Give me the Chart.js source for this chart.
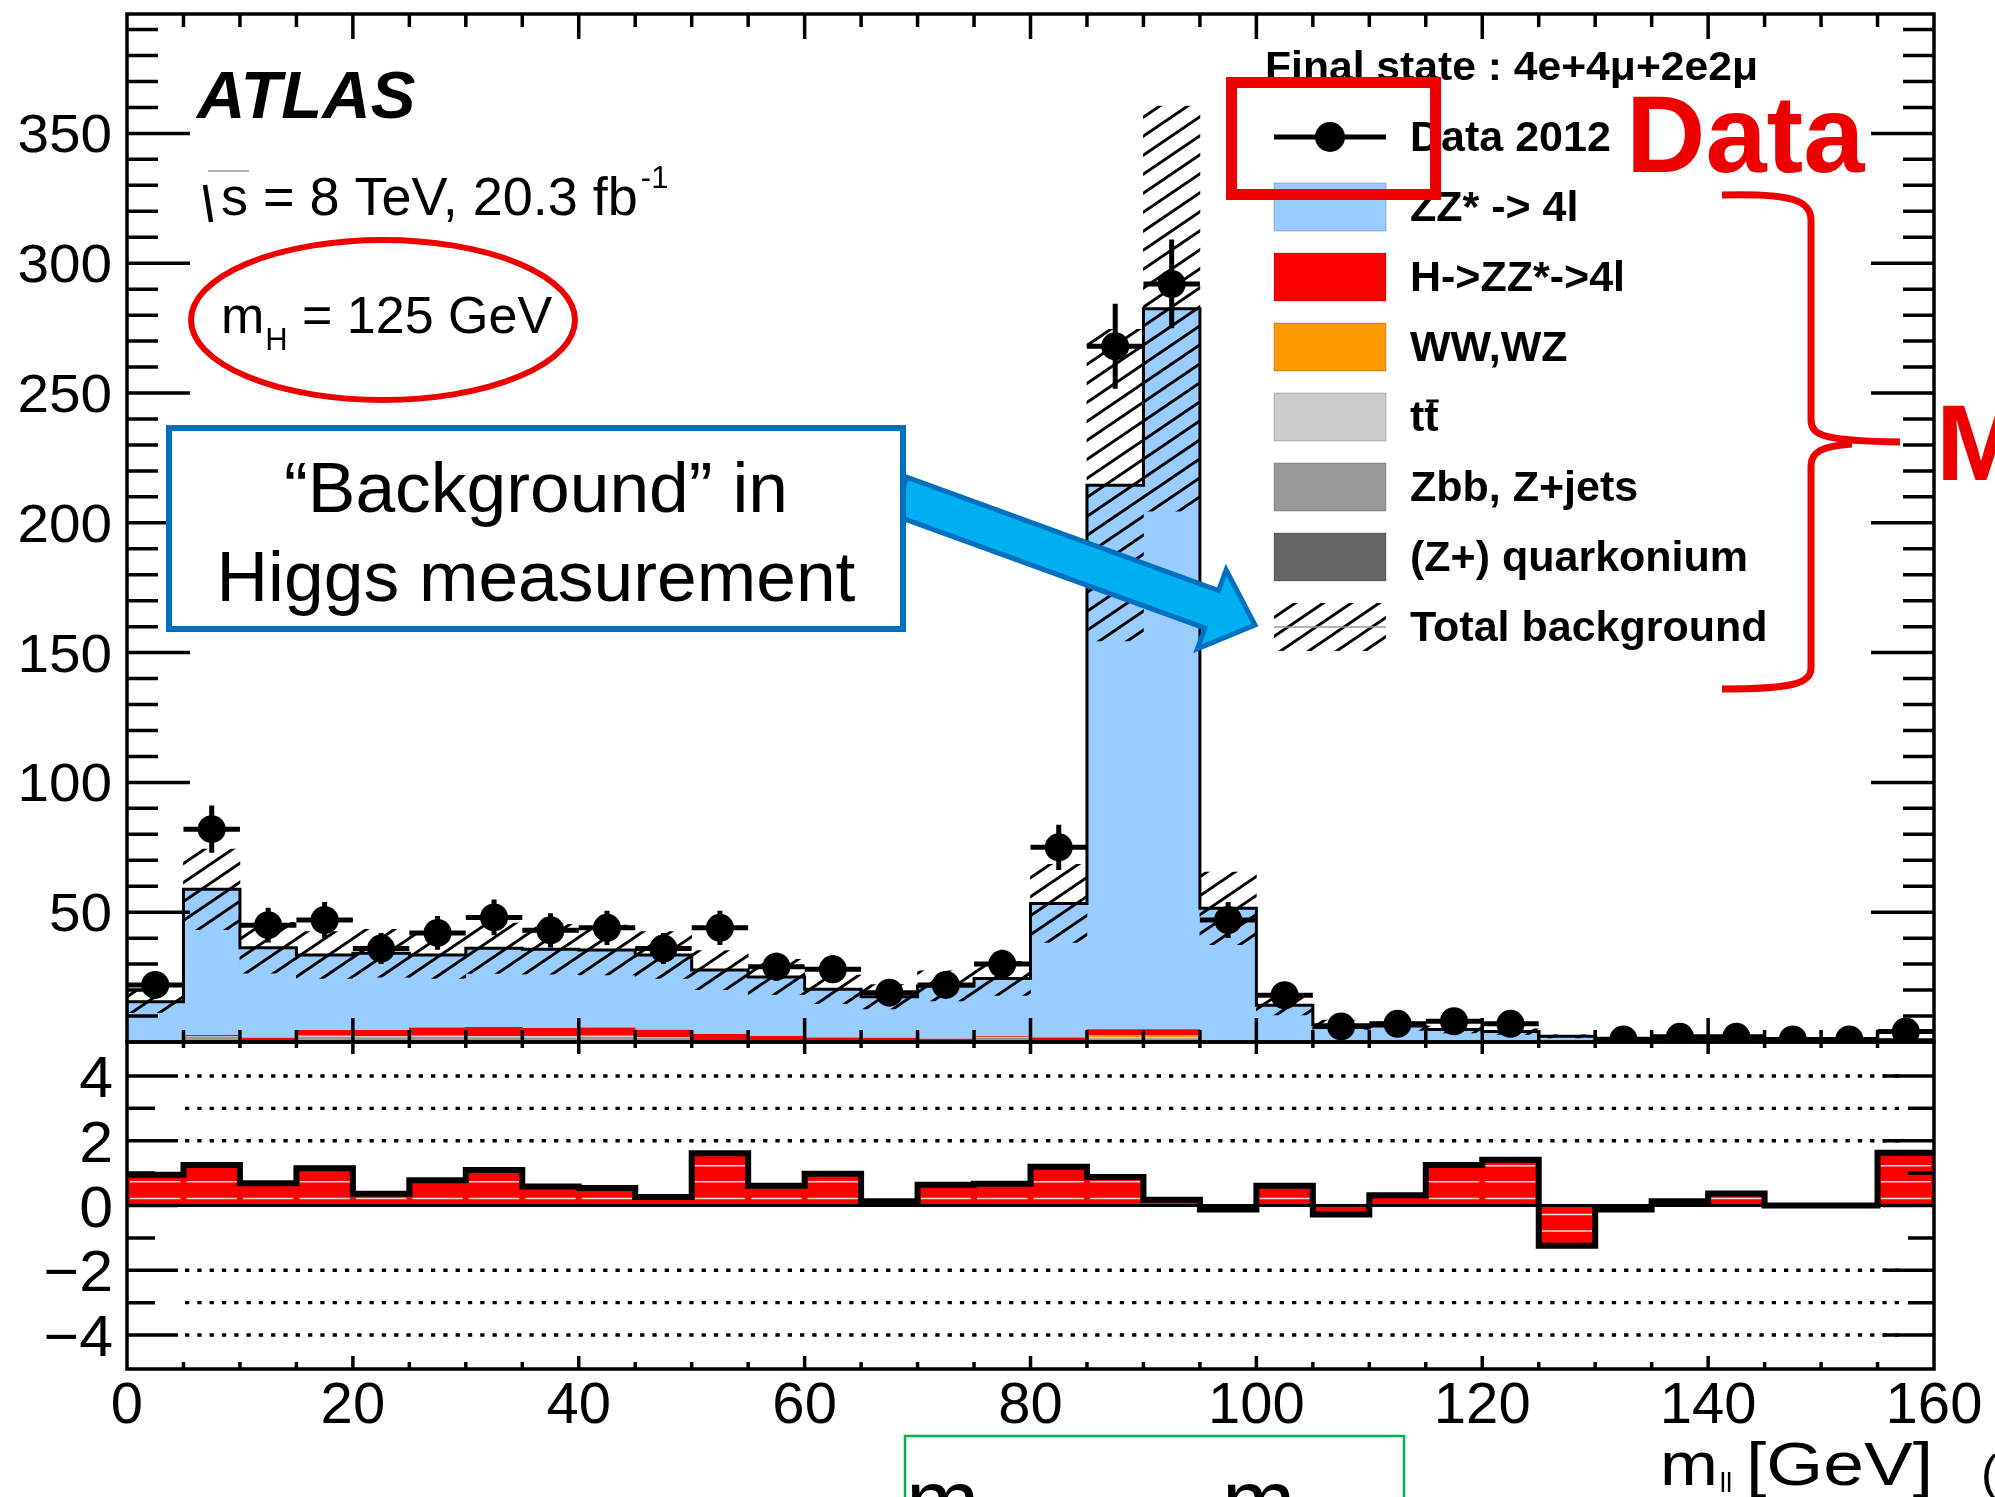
<!DOCTYPE html>
<html>
<head>
<meta charset="utf-8">
<title>ATLAS m_ll distribution, 4l final state</title>
<script src="https://cdn.jsdelivr.net/npm/chart.js@4.4.1/dist/chart.umd.min.js"></script>
<style>
  html, body { margin: 0; padding: 0; background: #ffffff; }
  #stage { position: relative; width: 1995px; height: 1497px; overflow: hidden; background: #ffffff; }
  #stage canvas { position: absolute; left: 0; top: 0; }
</style>
</head>
<body>
<div id="stage">
  <canvas id="mainPanel" width="1995" height="1497"></canvas>
  <canvas id="ratioPanel" width="1995" height="1497"></canvas>
</div>
<script>
const FONT = '"Liberation Sans", Arial, Helvetica, sans-serif';

// ---------- binning (GeV) ----------
const binLowEdges = [0, 5, 10, 15, 20, 25, 30, 35, 40, 45, 50, 55, 60, 65, 70, 75,
                     80, 85, 90, 95, 100, 105, 110, 115, 120, 125, 130, 135, 140, 145, 150, 155];
const binWidth = 5;
const massRange = [0, 160];
const countRange = [0, 396];
const ratioRange = [-5.05, 5.05];

// ---------- expected events per bin, stacked from the bottom up ----------
const quarkonium = [0, 0.9, 0, 0.3, 0.3, 0.3, 0.3, 0.3, 0.3, 0.2, 0, 0, 0, 0, 0, 0,
                    0, 0, 0, 0, 0, 0, 0, 0, 0, 0, 0, 0, 0, 0, 0, 0];
const zbbZjets   = [0, 1.2, 0.2, 1.6, 1.5, 1.6, 1.5, 1.4, 1.6, 1.3, 0.3, 0.2, 0.2, 0.2, 0.3, 1.5,
                    0.3, 1.4, 1.4, 0, 0, 0, 0, 0, 0, 0, 0, 0, 0, 0, 0, 0];
const ttbar      = [0, 0.2, 0.1, 0.5, 0.5, 0.5, 0.5, 0.5, 0.5, 0.4, 0.2, 0.1, 0, 0, 0.1, 0.2,
                    0, 0.3, 0.3, 0, 0, 0, 0, 0, 0, 0, 0, 0, 0, 0, 0, 0];
const wwWz       = [0, 0, 0, 0, 0, 0, 0, 0, 0, 0, 0.3, 0.3, 0.2, 0.2, 0.3, 0.2,
                    0.2, 1.0, 1.0, 0, 0, 0, 0, 0, 0, 0, 0, 0, 0, 0, 0, 0];
const higgs      = [0, 0.4, 1.3, 2.2, 2.3, 3.2, 3.5, 3.2, 3.2, 2.8, 2.3, 1.7, 1.3, 1.2, 0.6, 0.3,
                    1.2, 2.2, 2.2, 0, 0, 0, 0, 0, 0, 0, 0, 0, 0, 0, 0, 0];
const zzStar     = [15.5, 56.1, 34.7, 28.9, 29.6, 27.9, 30.3, 30.3, 29.8, 28.8, 24.6, 22.7, 18.6, 15.8, 20.3, 22.3,
                    51.7, 209.6, 277.6, 51.5, 14.2, 6.6, 6.2, 4.8, 4.0, 2.2, 1.4, 1.3, 1.2, 1.0, 1.0, 0.9];
// half-width of the total background uncertainty band
const bkgUncertainty = [4.2, 15.5, 9.8, 9.0, 9.2, 9.0, 9.7, 9.6, 9.6, 9.0, 7.5, 6.8, 5.5, 4.7, 5.8, 6.6,
                        15.0, 60, 78, 14.0, 3.8, 1.8, 1.7, 1.3, 1.1, 0.6, 0.4, 0.4, 0.3, 0.3, 0.3, 0.2];

// ---------- observed events (2012) ----------
const data2012    = [22, 82, 45, 47, 36, 42, 48, 43, 44, 36, 44, 29, 28, 19, 22, 30,
                     75, 268, 292, 47, 18, 6, 7, 8, 7, null, 1, 2, 2, 1, 1, 4];
const data2012Err = [4.7, 9.1, 6.7, 6.9, 6.0, 6.5, 6.9, 6.6, 6.6, 6.0, 6.6, 5.4, 5.3, 4.4, 4.7, 5.5,
                     8.7, 16.4, 17.1, 6.9, 4.2, 2.4, 2.6, 2.8, 2.6, 0, 1.0, 1.4, 1.4, 1.0, 1.0, 2.0];

// ---------- lower panel: per-bin deviation ----------
const significance = [0.95, 1.25, 0.69, 1.15, 0.36, 0.78, 1.10, 0.59, 0.54, 0.26, 1.61, 0.61, 0.98, 0.13, 0.64, 0.67,
                      1.20, 0.88, 0.18, -0.12, 0.61, -0.28, 0.32, 1.25, 1.41, -1.24, -0.12, 0.13, 0.37, 0.0, 0.0, 1.63];
// thin light stripes running through the filled deviation bars
const stripeLevels = [1.23, 0.73, 0.22, -0.28, -0.79];

// ---------- axis ticks ----------
const countTicks = [50, 100, 150, 200, 250, 300, 350];
const ratioTicks = [4, 2, 0, -2, -4];
const massTicks = [0, 20, 40, 60, 80, 100, 120, 140, 160];
const ratioRefLines = [4, 3, 2, -2, -3, -4];

// ---------- colours ----------
const COL = {
  zz: '#99ccff', higgs: '#ff0000', ww: '#ff9900', tt: '#cccccc', zbb: '#999999', onium: '#666666',
  note: '#ee0000', boxBlue: '#0070c0', arrowFill: '#00b0f0', green: '#00b050'
};

// ---------- helpers ----------
const binCenters = binLowEdges.map(e => e + binWidth / 2);
const binEdges = binLowEdges.concat([massRange[1]]);
const expectedTotal = binLowEdges.map((_, i) =>
  quarkonium[i] + zbbZjets[i] + ttbar[i] + wwWz[i] + higgs[i] + zzStar[i]);

function histBars(values) { return binCenters.map((x, i) => ({ x, y: values[i] })); }
function stepLine(values) { return binEdges.map((x, i) => ({ x, y: values[Math.min(i, values.length - 1)] })); }

function drawText(ctx, str, x, y, size, opt = {}) {
  ctx.save();
  ctx.font = `${opt.italic ? 'italic ' : ''}${opt.bold ? 'bold ' : ''}${size}px ${opt.family || FONT}`;
  ctx.fillStyle = opt.color || '#000';
  ctx.textAlign = opt.align || 'left';
  ctx.textBaseline = 'alphabetic';
  ctx.translate(x, y);
  ctx.scale(opt.sx || 1, 1);
  ctx.fillText(str, 0, 0);
  const w = ctx.measureText(str).width * (opt.sx || 1);
  ctx.restore();
  return w;
}

function makeHatch() {
  const w = 28, h = 19;
  const tile = document.createElement('canvas');
  tile.width = w; tile.height = h;
  const g = tile.getContext('2d');
  g.strokeStyle = '#000';
  g.lineWidth = 2.9;
  g.beginPath();
  for (let k = -1; k <= 1; k++) {
    g.moveTo(-w, 2 * h + k * h);
    g.lineTo(2 * w, -h + k * h);
  }
  g.stroke();
  return g.createPattern(tile, 'repeat');
}
const hatch = makeHatch();

// ---------- upper panel decorations ----------
function drawMainAxes(chart) {
  const { ctx, chartArea: a, scales: { x, y } } = chart;
  ctx.save();
  ctx.strokeStyle = '#000';
  ctx.lineWidth = 3.5;
  ctx.beginPath();
  for (let v = 10; v < countRange[1]; v += 10) {
    const py = y.getPixelForValue(v);
    const len = v % 50 === 0 ? 63 : 31;
    ctx.moveTo(a.left, py); ctx.lineTo(a.left + len, py);
    ctx.moveTo(a.right, py); ctx.lineTo(a.right - len, py);
  }
  for (let m = binWidth; m < massRange[1]; m += binWidth) {
    const px = x.getPixelForValue(m);
    const major = m % 20 === 0;
    ctx.moveTo(px, a.bottom); ctx.lineTo(px, a.bottom - (major ? 24 : 12));
    ctx.moveTo(px, a.top); ctx.lineTo(px, a.top + (major ? 25 : 13));
  }
  ctx.stroke();
  ctx.strokeRect(a.left, a.top, a.right - a.left, a.bottom - a.top);
  ctx.restore();

  countTicks.forEach(v => drawText(ctx, String(v), a.left - 15, y.getPixelForValue(v) + 19, 54, { align: 'right', sx: 1.05 }));
}

function drawDataErrors(chart) {
  const { ctx, chartArea: a, scales: { x, y } } = chart;
  ctx.save();
  ctx.beginPath();
  ctx.rect(a.left, a.top, a.right - a.left, a.bottom - a.top);
  ctx.clip();
  ctx.strokeStyle = '#000';
  ctx.lineWidth = 5;
  ctx.beginPath();
  binCenters.forEach((c, i) => {
    const n = data2012[i];
    if (n == null) return;
    const py = y.getPixelForValue(n);
    ctx.moveTo(x.getPixelForValue(c - binWidth / 2), py);
    ctx.lineTo(x.getPixelForValue(c + binWidth / 2), py);
    const e = data2012Err[i];
    if (e > 0) {
      const px = x.getPixelForValue(c);
      ctx.moveTo(px, y.getPixelForValue(n - e));
      ctx.lineTo(px, y.getPixelForValue(n + e));
    }
  });
  ctx.stroke();
  ctx.restore();
}

function drawPlotLabels(ctx) {
  drawText(ctx, 'ATLAS', 197, 118, 67, { bold: true, italic: true });

  // sqrt(s) = 8 TeV, 20.3 fb^-1
  ctx.save();
  ctx.strokeStyle = '#000'; ctx.lineWidth = 4.5;
  ctx.beginPath(); ctx.moveTo(205, 185); ctx.lineTo(211, 222); ctx.stroke();
  ctx.strokeStyle = '#9a9a9a'; ctx.lineWidth = 1.5;
  ctx.beginPath(); ctx.moveTo(208, 171); ctx.lineTo(249, 171); ctx.stroke();
  ctx.restore();
  const w = drawText(ctx, 's = 8 TeV, 20.3 fb', 221, 215, 54);
  drawText(ctx, '-1', 221 + w + 3, 188, 31);

  // m_H = 125 GeV
  const wm = drawText(ctx, 'm', 221, 333, 52);
  drawText(ctx, 'H', 221 + wm + 1, 350, 31);
  drawText(ctx, '= 125 GeV', 302, 333, 52);
}

const legendRows = [
  { label: 'Data 2012', kind: 'marker' },
  { label: 'ZZ* -> 4l', kind: 'box', color: COL.zz },
  { label: 'H->ZZ*->4l', kind: 'box', color: COL.higgs },
  { label: 'WW,WZ', kind: 'box', color: COL.ww },
  { label: 'tt', kind: 'box', color: COL.tt, overbar: true },
  { label: 'Zbb, Z+jets', kind: 'box', color: COL.zbb },
  { label: '(Z+) quarkonium', kind: 'box', color: COL.onium },
  { label: 'Total background', kind: 'hatch' }
];

function drawLegend(ctx) {
  drawText(ctx, 'Final state : 4e+4\u03bc+2e2\u03bc', 1265, 80, 41, { bold: true, sx: 1.04 });
  const x0 = 1274, bw = 112, bh = 48, tx = 1410;
  legendRows.forEach((row, i) => {
    const cy = 137 + i * 70;
    ctx.save();
    if (row.kind === 'marker') {
      ctx.strokeStyle = '#000'; ctx.lineWidth = 5;
      ctx.beginPath(); ctx.moveTo(x0, cy); ctx.lineTo(x0 + bw, cy); ctx.stroke();
      ctx.fillStyle = '#000';
      ctx.beginPath(); ctx.arc(x0 + bw / 2, cy, 15, 0, Math.PI * 2); ctx.fill();
    } else if (row.kind === 'box') {
      ctx.fillStyle = row.color;
      ctx.fillRect(x0, cy - bh / 2, bw, bh);
      ctx.strokeStyle = 'rgba(0,0,0,0.15)'; ctx.lineWidth = 1.5;
      ctx.strokeRect(x0, cy - bh / 2, bw, bh);
    } else {
      ctx.fillStyle = hatch;
      ctx.fillRect(x0, cy - bh / 2, bw, bh);
      ctx.strokeStyle = '#999'; ctx.lineWidth = 1.5;
      ctx.beginPath(); ctx.moveTo(x0, cy); ctx.lineTo(x0 + bw, cy); ctx.stroke();
    }
    ctx.restore();
    const base = cy + 14;
    drawText(ctx, row.label, tx, base, 43, { bold: true });
    if (row.overbar) {
      ctx.save();
      ctx.font = `bold 43px ${FONT}`;
      const wt = ctx.measureText('t').width;
      ctx.strokeStyle = '#000'; ctx.lineWidth = 3;
      ctx.beginPath(); ctx.moveTo(tx + wt + 2, base - 30); ctx.lineTo(tx + 2 * wt, base - 30); ctx.stroke();
      ctx.restore();
    }
  });
}

function drawCallouts(ctx) {
  ctx.save();
  // ellipse around the Higgs mass label
  ctx.strokeStyle = COL.note; ctx.lineWidth = 6;
  ctx.beginPath(); ctx.ellipse(383, 320, 192, 80, 0, 0, Math.PI * 2); ctx.stroke();

  // arrow from the text box to the background entry
  const sx = 900, sy = 496, tx = 1255, ty = 625;
  const L = Math.hypot(tx - sx, ty - sy);
  const ux = (tx - sx) / L, uy = (ty - sy) / L, nx = -uy, ny = ux;
  const body = 20, head = 42, headLen = 46;
  const bx = tx - ux * headLen, by = ty - uy * headLen;
  ctx.beginPath();
  ctx.moveTo(sx + nx * body, sy + ny * body);
  ctx.lineTo(bx + nx * body, by + ny * body);
  ctx.lineTo(bx + nx * head, by + ny * head);
  ctx.lineTo(tx, ty);
  ctx.lineTo(bx - nx * head, by - ny * head);
  ctx.lineTo(bx - nx * body, by - ny * body);
  ctx.lineTo(sx - nx * body, sy - ny * body);
  ctx.closePath();
  ctx.fillStyle = COL.arrowFill; ctx.fill();
  ctx.strokeStyle = COL.boxBlue; ctx.lineWidth = 5; ctx.lineJoin = 'miter'; ctx.stroke();

  // text box
  ctx.fillStyle = '#fff';
  ctx.fillRect(169, 428, 734, 201);
  ctx.strokeStyle = COL.boxBlue; ctx.lineWidth = 6;
  ctx.strokeRect(169, 428, 734, 201);
  ctx.restore();
  drawText(ctx, '\u201cBackground\u201d in', 536, 512, 70, { align: 'center', sx: 1.02 });
  drawText(ctx, 'Higgs measurement', 536, 601, 70, { align: 'center', sx: 1.02 });

  // box around the data entry
  ctx.save();
  ctx.strokeStyle = COL.note; ctx.lineWidth = 11;
  ctx.strokeRect(1231.5, 82.5, 204, 112);
  ctx.restore();
  drawText(ctx, 'Data', 1626, 172, 110, { bold: true, color: COL.note });

  // brace grouping the simulated processes
  ctx.save();
  ctx.strokeStyle = COL.note; ctx.lineWidth = 7; ctx.lineCap = 'butt';
  ctx.beginPath();
  ctx.moveTo(1722, 195);
  ctx.bezierCurveTo(1790, 193, 1811, 200, 1811, 220);
  ctx.lineTo(1811, 420);
  ctx.bezierCurveTo(1811, 436, 1826, 441, 1900, 442);
  ctx.moveTo(1852, 444);
  ctx.bezierCurveTo(1822, 446, 1811, 452, 1811, 466);
  ctx.lineTo(1811, 668);
  ctx.bezierCurveTo(1811, 684, 1790, 689, 1722, 689);
  ctx.stroke();
  ctx.restore();
  drawText(ctx, 'M', 1936, 480, 108, { bold: true, color: COL.note });
}

const mainDecor = {
  id: 'mainDecor',
  afterDatasetsDraw(chart) { drawDataErrors(chart); },
  afterDraw(chart) {
    const ctx = chart.ctx;
    drawMainAxes(chart);
    drawPlotLabels(ctx);
    drawLegend(ctx);
    drawCallouts(ctx);
  }
};

// ---------- lower panel decorations ----------
const ratioDecor = {
  id: 'ratioDecor',
  beforeDatasetsDraw(chart) {
    const { ctx, chartArea: a, scales: { y } } = chart;
    ctx.save();
    ctx.strokeStyle = '#000'; ctx.lineWidth = 3.3; ctx.setLineDash([4.3, 8]);
    ctx.beginPath();
    ratioRefLines.forEach(v => {
      const py = y.getPixelForValue(v);
      ctx.moveTo(a.left + 58, py); ctx.lineTo(a.right - 28, py);
    });
    ctx.stroke();
    ctx.restore();
  },
  afterDatasetDraw(chart, args) {
    if (args.meta.type !== 'bar') return;
    const { ctx, scales: { x, y } } = chart;
    ctx.save();
    ctx.strokeStyle = 'rgba(255,255,255,0.85)'; ctx.lineWidth = 1.5;
    ctx.beginPath();
    binCenters.forEach((c, i) => {
      const v = significance[i];
      stripeLevels.forEach(s => {
        if (Math.sign(s) !== Math.sign(v) || Math.abs(s) > Math.abs(v) - 0.12) return;
        const py = y.getPixelForValue(s);
        ctx.moveTo(x.getPixelForValue(c - binWidth / 2) + 3, py);
        ctx.lineTo(x.getPixelForValue(c + binWidth / 2) - 3, py);
      });
    });
    ctx.stroke();
    ctx.restore();
  },
  afterDraw(chart) {
    const { ctx, chartArea: a, scales: { x, y } } = chart;
    ctx.save();
    ctx.strokeStyle = '#000';
    ctx.lineWidth = 3;
    const y0 = y.getPixelForValue(0);
    ctx.beginPath(); ctx.moveTo(a.left, y0); ctx.lineTo(a.right, y0); ctx.stroke();

    ctx.lineWidth = 3.5;
    ctx.beginPath();
    for (let v = -4; v <= 4; v++) {
      const py = y.getPixelForValue(v);
      const major = v % 2 === 0;
      ctx.moveTo(a.left, py); ctx.lineTo(a.left + (major ? 51 : 28), py);
      ctx.moveTo(a.right, py); ctx.lineTo(a.right - (major ? 51 : 26), py);
    }
    for (let m = binWidth; m < massRange[1]; m += binWidth) {
      const px = x.getPixelForValue(m);
      const major = m % 20 === 0;
      ctx.moveTo(px, a.bottom); ctx.lineTo(px, a.bottom - (major ? 13 : 7));
      ctx.moveTo(px, a.top); ctx.lineTo(px, a.top + (major ? 12 : 6));
    }
    ctx.stroke();
    ctx.strokeRect(a.left, a.top, a.right - a.left, a.bottom - a.top);
    ctx.restore();

    ratioTicks.forEach(v => {
      const s = v < 0 ? '\u2212' + Math.abs(v) : String(v);
      drawText(ctx, s, a.left - 14, y.getPixelForValue(v) + 21, 58, { align: 'right', sx: 1.05 });
    });
    massTicks.forEach(v => drawText(ctx, String(v), x.getPixelForValue(v), 1423, 58, { align: 'center' }));

    // axis title m_ll [GeV]
    const wm = drawText(ctx, 'm', 1660, 1485, 62, { sx: 1.12 });
    drawText(ctx, 'll', 1660 + wm + 2, 1492, 28);
    drawText(ctx, '[GeV]', 1746, 1485, 62, { sx: 1.18 });
    drawText(ctx, '(', 1981, 1490, 50);

    // framed formula below the axis (partly outside the page)
    ctx.save();
    ctx.strokeStyle = COL.green; ctx.lineWidth = 2.5;
    ctx.strokeRect(905, 1436, 499, 120);
    ctx.restore();
    drawText(ctx, 'm', 906, 1531, 88);
    drawText(ctx, 'm', 1222, 1531, 88);
  }
};

Chart.defaults.font.family = FONT;

// ---------- upper panel: stacked expectation, uncertainty band, data ----------
const mcLayers = [
  { label: '(Z+) quarkonium', values: quarkonium, color: COL.onium },
  { label: 'Zbb, Z+jets', values: zbbZjets, color: COL.zbb },
  { label: 'ttbar', values: ttbar, color: COL.tt },
  { label: 'WW,WZ', values: wwWz, color: COL.ww },
  { label: 'H->ZZ*->4l', values: higgs, color: COL.higgs },
  { label: 'ZZ* -> 4l', values: zzStar, color: COL.zz }
];

const mainDatasets = mcLayers.map((l, i) => ({
  type: 'bar', label: l.label, data: histBars(l.values),
  backgroundColor: l.color, borderWidth: 0, stack: 'mc', order: 10 + i,
  barPercentage: 1.012, categoryPercentage: 1, grouped: false
}));
mainDatasets.push({
  type: 'bar', label: 'Total background',
  data: binCenters.map((x, i) => ({ x, y: [expectedTotal[i] - bkgUncertainty[i], expectedTotal[i] + bkgUncertainty[i]] })),
  backgroundColor: hatch, borderWidth: 0, stack: 'band', order: 4,
  barPercentage: 1, categoryPercentage: 1, grouped: false
});
mainDatasets.push({
  type: 'line', label: 'expected total', data: stepLine(expectedTotal),
  stepped: 'before', borderColor: '#000', borderWidth: 3, pointRadius: 0, fill: false,
  stack: 'outline', order: 2, clip: 2
});
mainDatasets.push({
  type: 'scatter', label: 'Data 2012',
  data: binCenters.map((x, i) => data2012[i] == null ? null : { x, y: data2012[i] }).filter(Boolean),
  pointRadius: 14, pointBackgroundColor: '#000', pointBorderColor: '#000', pointBorderWidth: 0,
  showLine: false, stack: 'data', order: 1, clip: 0
});

new Chart(document.getElementById('mainPanel'), {
  type: 'bar',
  data: { datasets: mainDatasets },
  options: {
    responsive: false, animation: false, devicePixelRatio: 1, events: [],
    layout: { padding: { left: 127, right: 61, top: 13, bottom: 455 } },
    plugins: { legend: { display: false }, tooltip: { enabled: false }, title: { display: false } },
    scales: {
      x: { type: 'linear', min: massRange[0], max: massRange[1], offset: false, display: false, ticks: { stepSize: binWidth } },
      y: { type: 'linear', min: countRange[0], max: countRange[1], display: false, stacked: true }
    }
  },
  plugins: [mainDecor]
});

// ---------- lower panel ----------
new Chart(document.getElementById('ratioPanel'), {
  type: 'bar',
  data: {
    datasets: [
      {
        type: 'line', label: 'outline', data: stepLine(significance),
        stepped: 'before', borderColor: '#000', borderWidth: 6, pointRadius: 0, fill: false, order: 1, clip: 3
      },
      {
        type: 'bar', label: 'deviation', data: histBars(significance),
        backgroundColor: COL.higgs, borderWidth: 0, order: 2,
        barPercentage: 1.012, categoryPercentage: 1, grouped: false
      }
    ]
  },
  options: {
    responsive: false, animation: false, devicePixelRatio: 1, events: [],
    layout: { padding: { left: 127, right: 61, top: 1042, bottom: 128 } },
    plugins: { legend: { display: false }, tooltip: { enabled: false }, title: { display: false } },
    scales: {
      x: { type: 'linear', min: massRange[0], max: massRange[1], offset: false, display: false, ticks: { stepSize: binWidth } },
      y: { type: 'linear', min: ratioRange[0], max: ratioRange[1], display: false }
    }
  },
  plugins: [ratioDecor]
});
</script>
</body>
</html>
